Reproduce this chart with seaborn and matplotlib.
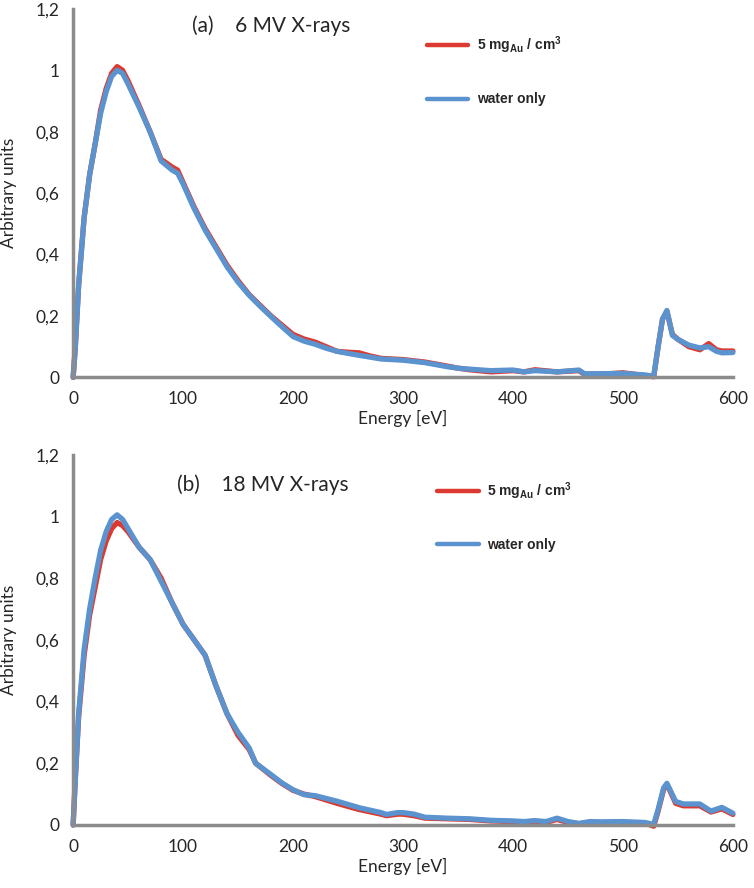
import matplotlib
matplotlib.use('Agg')
import matplotlib.pyplot as plt
import seaborn as sns
import pandas as pd

# Panel (a): 6 MV X-rays
energy_a = [0, 2, 5, 10, 15, 20, 25, 30, 35, 40, 45, 50, 60, 70, 80, 90, 95, 100,
            110, 120, 130, 140, 150, 160, 170, 180, 190, 200, 210, 220, 230, 240,
            250, 260, 270, 280, 300, 320, 340, 350, 360, 380, 400, 410, 420, 440,
            460, 465, 480, 500, 520, 528, 532, 536, 540, 545, 550, 560, 570, 578,
            585, 590, 600]
gold_a = [0.0, 0.1, 0.3, 0.52, 0.66, 0.76, 0.87, 0.94, 0.99, 1.012, 1.0, 0.965,
          0.885, 0.8, 0.71, 0.685, 0.675, 0.635, 0.555, 0.485, 0.425, 0.365,
          0.315, 0.27, 0.235, 0.2, 0.17, 0.14, 0.125, 0.115, 0.1, 0.085, 0.082,
          0.08, 0.07, 0.062, 0.058, 0.05, 0.037, 0.03, 0.025, 0.018, 0.022, 0.018,
          0.025, 0.018, 0.022, 0.01, 0.01, 0.015, 0.006, 0.002, 0.1, 0.19, 0.215,
          0.14, 0.124, 0.1, 0.09, 0.11, 0.09, 0.086, 0.086]
water_a = [0.0, 0.1, 0.3, 0.52, 0.66, 0.76, 0.86, 0.93, 0.98, 1.0, 0.99, 0.955,
           0.88, 0.8, 0.705, 0.675, 0.665, 0.63, 0.55, 0.48, 0.42, 0.36, 0.31,
           0.268, 0.232, 0.198, 0.165, 0.133, 0.118, 0.108, 0.095, 0.085, 0.078,
           0.072, 0.066, 0.06, 0.056, 0.048, 0.035, 0.03, 0.027, 0.022, 0.024,
           0.018, 0.022, 0.018, 0.024, 0.012, 0.012, 0.013, 0.008, 0.004, 0.1,
           0.19, 0.218, 0.137, 0.124, 0.105, 0.096, 0.1, 0.085, 0.08, 0.081]

# Panel (b): 18 MV X-rays
energy_b = [0, 2, 5, 10, 15, 20, 25, 30, 35, 40, 45, 50, 60, 70, 80, 90, 100, 110,
            120, 130, 140, 150, 160, 166, 180, 190, 200, 210, 220, 240, 260, 280,
            285, 295, 300, 310, 320, 340, 360, 380, 400, 410, 420, 430, 440, 450,
            460, 470, 480, 500, 520, 528, 532, 537, 540, 548, 555, 570, 580, 590,
            600]
gold_b = [0.0, 0.15, 0.35, 0.55, 0.68, 0.77, 0.86, 0.92, 0.96, 0.98, 0.97, 0.95,
          0.9, 0.86, 0.8, 0.72, 0.65, 0.6, 0.55, 0.45, 0.36, 0.29, 0.245, 0.2,
          0.16, 0.134, 0.112, 0.1, 0.092, 0.07, 0.05, 0.035, 0.03, 0.035, 0.035,
          0.03, 0.022, 0.02, 0.018, 0.013, 0.011, 0.01, 0.012, 0.008, 0.018,
          0.008, 0.004, 0.008, 0.008, 0.008, 0.006, -0.004, 0.045, 0.115, 0.132,
          0.07, 0.062, 0.062, 0.042, 0.052, 0.034]
water_b = [0.0, 0.15, 0.36, 0.57, 0.7, 0.8, 0.89, 0.95, 0.99, 1.005, 0.99, 0.96,
           0.9, 0.86, 0.79, 0.72, 0.65, 0.6, 0.55, 0.45, 0.36, 0.3, 0.25, 0.2,
           0.163, 0.136, 0.114, 0.098, 0.095, 0.077, 0.056, 0.04, 0.034, 0.04,
           0.04, 0.035, 0.025, 0.022, 0.02, 0.015, 0.013, 0.011, 0.014, 0.011,
           0.022, 0.011, 0.005, 0.011, 0.01, 0.011, 0.008, 0.002, 0.05, 0.12,
           0.135, 0.076, 0.068, 0.068, 0.045, 0.057, 0.038]

series_names = ['5 mg$_{\\mathbf{Au}}$ / cm$^{\\mathbf{3}}$', 'water only']
series_colors = ['#dc3a30', '#5b93cf']
panel_titles = ['(a)    6 MV X-rays', '(b)    18 MV X-rays']
y_ticks = [0, 0.2, 0.4, 0.6, 0.8, 1.0, 1.2]
y_tick_labels = ['0', '0,2', '0,4', '0,6', '0,8', '1', '1,2']
x_ticks = [0, 100, 200, 300, 400, 500, 600]


def make_frame(energy, gold, water):
    df_gold = pd.DataFrame({'energy': energy, 'value': gold, 'series': series_names[0]})
    df_water = pd.DataFrame({'energy': energy, 'value': water, 'series': series_names[1]})
    return pd.concat([df_gold, df_water], ignore_index=True)


def draw_panel(ax, df, title, title_pos, legend_pos):
    sns.lineplot(data=df, x='energy', y='value', hue='series',
                 palette=dict(zip(series_names, series_colors)),
                 linewidth=3.8, sort=False, estimator=None, ax=ax)
    for line in ax.lines:
        line.set_solid_capstyle('round')
        line.set_solid_joinstyle('round')
        line.set_clip_on(False)
    ax.set_xlim(0, 600)
    ax.set_ylim(0, 1.2)
    ax.set_xticks(x_ticks)
    ax.set_xticklabels([str(t) for t in x_ticks])
    ax.set_yticks(y_ticks)
    ax.set_yticklabels(y_tick_labels)
    ax.set_xlabel('Energy [eV]', fontsize=12.5, labelpad=2)
    ax.set_ylabel('Arbitrary units', fontsize=12.5)
    ax.yaxis.set_label_coords(-0.085, 0.5)
    ax.tick_params(axis='both', labelsize=12.5, length=6, width=2.2,
                   color='#8c8c8c', direction='out', pad=4)
    for side in ['top', 'right']:
        ax.spines[side].set_visible(False)
    for side in ['left', 'bottom']:
        ax.spines[side].set_color('#8c8c8c')
        ax.spines[side].set_linewidth(2.5)
    ax.text(title_pos[0], title_pos[1], title, transform=ax.transAxes,
            fontsize=15, va='center', ha='left')
    leg = ax.legend(loc='upper left', bbox_to_anchor=legend_pos, frameon=False,
                    handlelength=3.0, handletextpad=0.6, labelspacing=2.6,
                    borderpad=0, borderaxespad=0,
                    prop={'family': 'Liberation Sans', 'weight': 'bold', 'size': 10})
    for h in leg.get_lines():
        h.set_linewidth(3.2)
        h.set_solid_capstyle('round')


def main():
    sns.set_style('white')
    plt.rcParams['font.family'] = ['Lato', 'DejaVu Sans']
    plt.rcParams['mathtext.fontset'] = 'custom'
    plt.rcParams['mathtext.rm'] = 'Liberation Sans:bold'
    plt.rcParams['mathtext.bf'] = 'Liberation Sans:bold'

    fig = plt.figure(figsize=(7.54, 8.88), dpi=100)
    ax_a = fig.add_axes([0.097, 0.575, 0.875, 0.415])
    ax_b = fig.add_axes([0.097, 0.071, 0.875, 0.417])

    draw_panel(ax_a, make_frame(energy_a, gold_a, water_a), panel_titles[0],
               (0.18, 0.955), (0.536, 0.93))
    draw_panel(ax_b, make_frame(energy_b, gold_b, water_b), panel_titles[1],
               (0.158, 0.92), (0.552, 0.93))

    fig.savefig('out.png', dpi=100)


if __name__ == '__main__':
    main()
